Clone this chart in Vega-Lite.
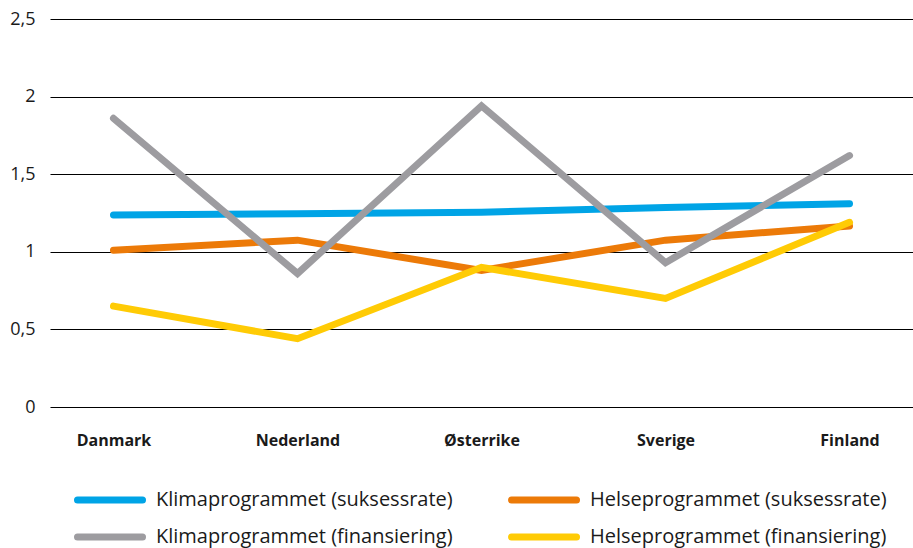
{
  "$schema": "https://vega.github.io/schema/vega-lite/v6.json",
  "width": 863,
  "height": 388,
  "autosize": {"type": "none"},
  "padding": {"left": 50, "top": 19, "right": 0, "bottom": 141},
  "background": "white",
  "config": {"view": {"stroke": null}, "font": "Open Sans"},
  "data": {
    "values": [
      {"land": "Danmark", "serie": "Klimaprogrammet (suksessrate)", "verdi": 1.237},
      {"land": "Nederland", "serie": "Klimaprogrammet (suksessrate)", "verdi": 1.245},
      {"land": "Østerrike", "serie": "Klimaprogrammet (suksessrate)", "verdi": 1.255},
      {"land": "Sverige", "serie": "Klimaprogrammet (suksessrate)", "verdi": 1.285},
      {"land": "Finland", "serie": "Klimaprogrammet (suksessrate)", "verdi": 1.31},
      {"land": "Danmark", "serie": "Helseprogrammet (suksessrate)", "verdi": 1.01},
      {"land": "Nederland", "serie": "Helseprogrammet (suksessrate)", "verdi": 1.075},
      {"land": "Østerrike", "serie": "Helseprogrammet (suksessrate)", "verdi": 0.88},
      {"land": "Sverige", "serie": "Helseprogrammet (suksessrate)", "verdi": 1.075},
      {"land": "Finland", "serie": "Helseprogrammet (suksessrate)", "verdi": 1.166},
      {"land": "Danmark", "serie": "Klimaprogrammet (finansiering)", "verdi": 1.86},
      {"land": "Nederland", "serie": "Klimaprogrammet (finansiering)", "verdi": 0.86},
      {"land": "Østerrike", "serie": "Klimaprogrammet (finansiering)", "verdi": 1.94},
      {"land": "Sverige", "serie": "Klimaprogrammet (finansiering)", "verdi": 0.93},
      {"land": "Finland", "serie": "Klimaprogrammet (finansiering)", "verdi": 1.62},
      {"land": "Danmark", "serie": "Helseprogrammet (finansiering)", "verdi": 0.65},
      {"land": "Nederland", "serie": "Helseprogrammet (finansiering)", "verdi": 0.44},
      {"land": "Østerrike", "serie": "Helseprogrammet (finansiering)", "verdi": 0.9},
      {"land": "Sverige", "serie": "Helseprogrammet (finansiering)", "verdi": 0.7},
      {"land": "Finland", "serie": "Helseprogrammet (finansiering)", "verdi": 1.19}
    ]
  },
  "mark": {"type": "line", "strokeWidth": 7, "strokeCap": "round", "strokeJoin": "miter"},
  "encoding": {
    "x": {
      "field": "land",
      "type": "ordinal",
      "sort": ["Danmark", "Nederland", "Østerrike", "Sverige", "Finland"],
      "scale": {"type": "point", "padding": 0.345},
      "axis": {
        "title": null,
        "domain": false,
        "ticks": false,
        "grid": false,
        "labelAngle": 0,
        "labelFontWeight": "bold",
        "labelFontSize": 16,
        "labelColor": "#1a1a1a",
        "labelPadding": 25
      }
    },
    "y": {
      "field": "verdi",
      "type": "quantitative",
      "scale": {"domain": [0, 2.5], "nice": false},
      "axis": {
        "title": null,
        "values": [0, 0.5, 1, 1.5, 2, 2.5],
        "domain": false,
        "ticks": false,
        "gridColor": "#000000",
        "gridOpacity": 1,
        "gridWidth": 1.2,
        "labelFontSize": 18,
        "labelColor": "#1a1a1a",
        "labelPadding": 15,
        "labelExpr": "replace(toString(datum.value), '.', ',')"
      }
    },
    "color": {
      "field": "serie",
      "type": "nominal",
      "sort": ["Klimaprogrammet (suksessrate)", "Helseprogrammet (suksessrate)", "Klimaprogrammet (finansiering)", "Helseprogrammet (finansiering)"],
      "scale": {
        "domain": ["Klimaprogrammet (suksessrate)", "Helseprogrammet (suksessrate)", "Klimaprogrammet (finansiering)", "Helseprogrammet (finansiering)"],
        "range": ["#00a4e6", "#ec7a08", "#9d9ca0", "#ffcb05"]
      },
      "legend": {
        "title": null,
        "orient": "none",
        "legendX": 50,
        "legendY": 471,
        "direction": "horizontal",
        "columns": 2,
        "symbolType": "M-5,0H5",
        "symbolSize": 169,
        "symbolStrokeWidth": 7,
        "labelFontSize": 20,
        "labelColor": "#1a1a1a",
        "labelOffset": 36,
        "labelLimit": 400,
        "columnPadding": 44,
        "rowPadding": 9,
        "encode": {"symbols": {"update": {"strokeCap": {"value": "round"}}}}
      }
    }
  }
}
